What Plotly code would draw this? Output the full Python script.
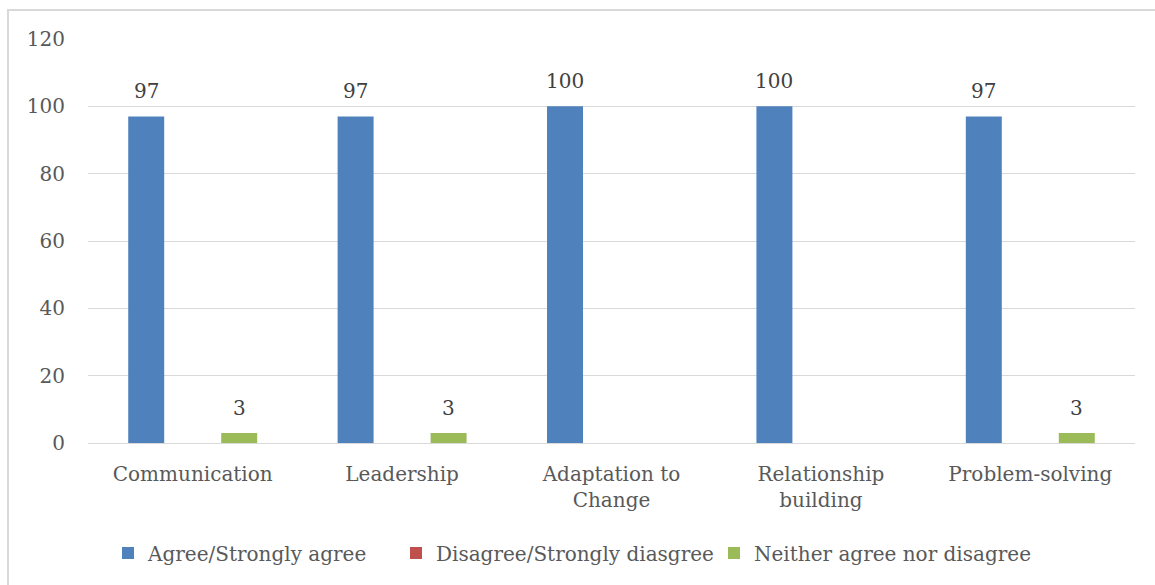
import plotly.graph_objects as go

# Survey results: share of respondents (%) per skill area
categories = ["Communication", "Leadership", "Adaptation to<br>Change",
              "Relationship<br>building", "Problem-solving"]
series_names = ["Agree/Strongly agree", "Disagree/Strongly diasgree",
                "Neither agree nor disagree"]
agree = [97, 97, 100, 100, 97]
disagree = [0, 0, 0, 0, 0]
neither = [3, 3, 0, 0, 3]
colors = ["#4F81BD", "#C0504D", "#9BBB59"]

W, H = 1155, 585
M_L, M_R, M_T, M_B = 88, 20, 39, 142
PW, PH = W - M_L - M_R, H - M_T - M_B

FONT = "DejaVu Serif"
TICK_COLOR = "#595959"
LABEL_COLOR = "#404040"
GRID = "#D9D9D9"

fig = go.Figure()
legend_ids = ["legend", "legend2", "legend3"]
for name, vals, col, lg in zip(series_names, [agree, disagree, neither], colors, legend_ids):
    fig.add_trace(go.Bar(
        x=categories, y=vals, name=name, marker_color=col,
        marker_line_width=0, legend=lg,
    ))

# value labels above non-zero bars
bargap, groupgap = 0.334, 0.226
slot_px = PW / len(categories) * (1 - bargap) / 3
for k, vals in enumerate([agree, disagree, neither]):
    for c, v in zip(categories, vals):
        if v:
            fig.add_annotation(
                x=c, y=v, xref="x", yref="y", text=str(v), showarrow=False,
                xshift=(k - 1) * slot_px, yanchor="bottom", yshift=11,
                font=dict(family=FONT, size=20, color=LABEL_COLOR),
            )

# outer chart frame
def px_x(p):
    return (p - M_L) / PW

def px_y(p):
    return (H - M_B - p) / PH

fig.add_shape(type="rect", xref="paper", yref="paper",
              x0=px_x(8), x1=px_x(1170), y0=px_y(600), y1=px_y(10),
              line=dict(color=GRID, width=2), fillcolor="rgba(0,0,0,0)", layer="below")

legend_x = [108, 396, 714]
legend_common = dict(
    orientation="h", xanchor="left", yanchor="middle", y=px_y(553),
    font=dict(family=FONT, size=20, color=TICK_COLOR),
    bgcolor="rgba(0,0,0,0)", itemwidth=30, borderwidth=0,
    itemclick=False, itemdoubleclick=False,
)
legends = {}
for lg, lx in zip(legend_ids, legend_x):
    legends[lg] = dict(legend_common, x=px_x(lx))

fig.update_layout(
    width=W, height=H,
    margin=dict(l=M_L, r=M_R, t=M_T, b=M_B),
    paper_bgcolor="white", plot_bgcolor="white",
    barmode="group", bargap=bargap, bargroupgap=groupgap,
    font=dict(family=FONT, size=20, color=TICK_COLOR),
    showlegend=True,
    **legends,
)
fig.update_yaxes(
    range=[0, 120], dtick=20, showgrid=True, gridcolor=GRID, gridwidth=1.3,
    zeroline=True, zerolinecolor=GRID, zerolinewidth=1.3, showline=False,
    ticks="", ticklabelstandoff=22,
    tickfont=dict(family=FONT, size=20, color=TICK_COLOR),
)
fig.update_xaxes(
    showgrid=False, showline=False, ticks="", ticklabelstandoff=17,
    tickfont=dict(family=FONT, size=20, color=TICK_COLOR),
)

fig.write_html("out.html")
